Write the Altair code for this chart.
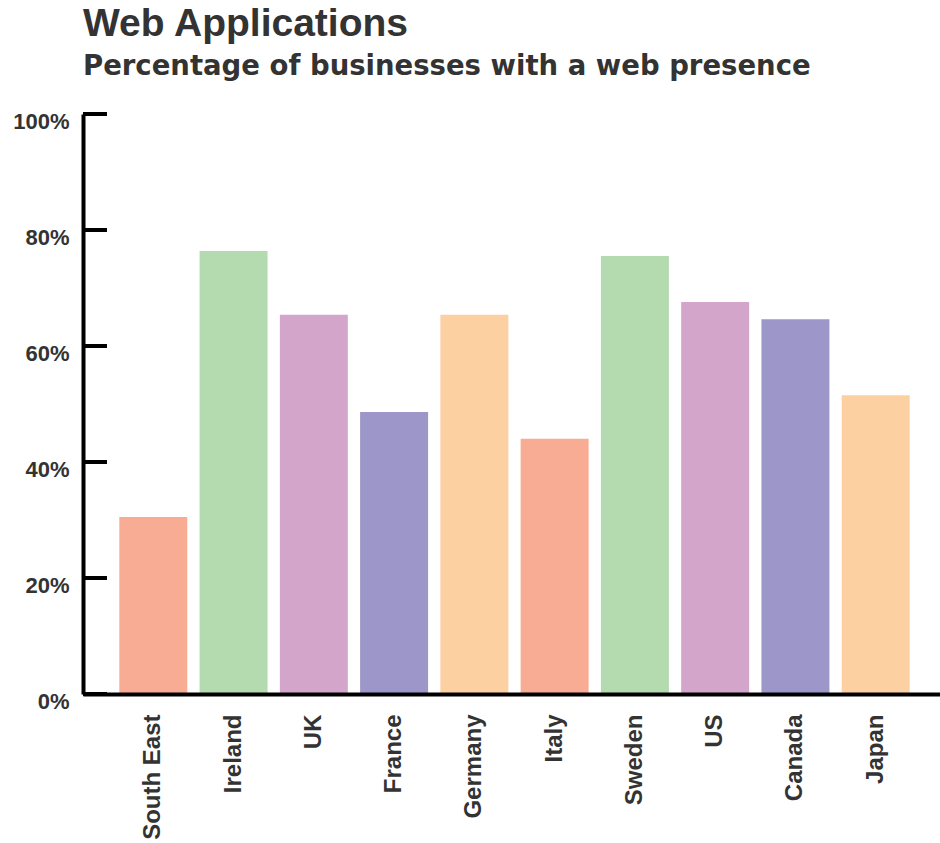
import altair as alt
import pandas as pd

countries = ["South East", "Ireland", "UK", "France", "Germany",
             "Italy", "Sweden", "US", "Canada", "Japan"]
values = [30.5, 76.4, 65.4, 48.6, 65.4, 44.0, 75.5, 67.6, 64.6, 51.5]
bar_colors = ["#F8AC93", "#B3DBAF", "#D3A5CB", "#9C97C8", "#FDD0A2",
              "#F8AC93", "#B3DBAF", "#D3A5CB", "#9C97C8", "#FDD0A2"]
tick_values = [0, 20, 40, 60, 80, 100]

df = pd.DataFrame({"country": countries, "value": values, "color": bar_colors})
ticks_df = pd.DataFrame({"v": tick_values})

W, H = 857, 580
TEXT = "#333333"

xscale = alt.Scale(domain=countries, paddingInner=0.153, paddingOuter=0.415, align=0.545)
yscale = alt.Scale(domain=[0, 100], nice=False)

y_axis = alt.Axis(values=tick_values, labelExpr="datum.value + '%'",
                  ticks=False, grid=False, domain=True,
                  domainColor="black", domainWidth=4,
                  labelFont="Liberation Sans", labelFontWeight="bold",
                  labelFontSize=22, labelColor=TEXT, labelPadding=14,
                  labelOffset=7, zindex=1)

bars = alt.Chart(df).mark_bar().encode(
    x=alt.X("country:N", sort=countries, scale=xscale, title=None,
            axis=alt.Axis(labelAngle=270, ticks=False, domain=True, grid=False,
                          domainColor="black", domainWidth=4,
                          labelFont="Liberation Sans", labelFontWeight="bold",
                          labelFontSize=24, labelColor=TEXT, labelPadding=20,
                          zindex=1)),
    y=alt.Y("value:Q", scale=yscale, title=None, axis=y_axis),
    color=alt.Color("color:N", scale=None),
)

yticks = alt.Chart(ticks_df).mark_rule(color="black", strokeWidth=4).encode(
    y=alt.Y("v:Q", scale=yscale, title=None, axis=y_axis),
    x=alt.value(0),
    x2=alt.value(24),
)

chart = alt.layer(bars, yticks).properties(
    width=W,
    height=H,
    background="white",
    autosize=alt.AutoSizeParams(type="none"),
    padding={"left": 83, "top": 114, "right": 0, "bottom": 149},
    title=alt.TitleParams(
        text="Web Applications",
        subtitle="Percentage of businesses with a web presence",
        anchor="start",
        frame="group",
        font="Liberation Sans", fontSize=39, fontWeight=700, color=TEXT,
        subtitleFont="DejaVu Sans", subtitleFontSize=27.5,
        subtitleFontWeight=700, subtitleColor=TEXT,
        subtitlePadding=9, offset=30,
    ),
).configure_view(strokeWidth=0, stroke="transparent").configure_axis(grid=False)

chart.save("out.html", embed_options={"renderer": "svg", "actions": False})
